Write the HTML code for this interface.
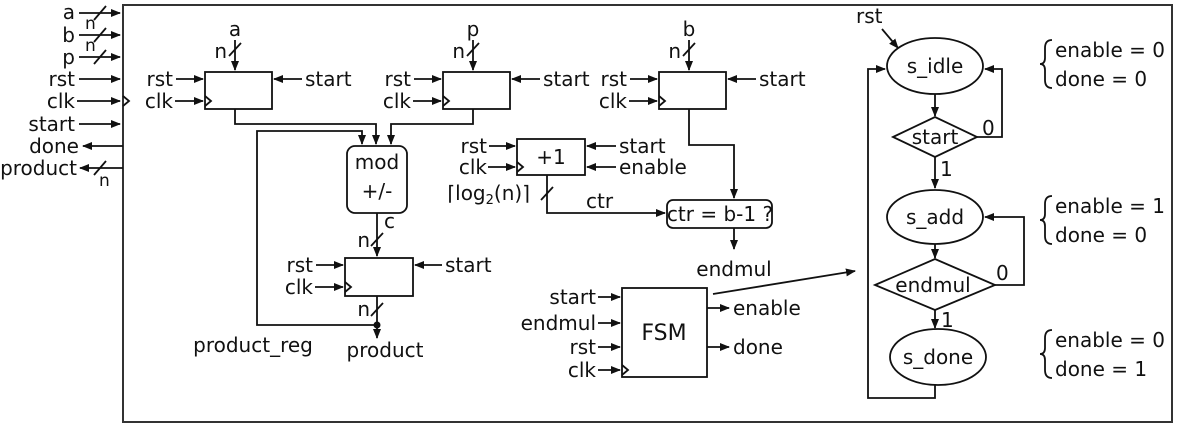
<!DOCTYPE html>
<html><head><meta charset="utf-8"><style>
html,body{margin:0;padding:0;background:#fff;}
svg{display:block;}
text{font-family:"DejaVu Sans","Liberation Sans",sans-serif;font-size:20px;fill:#111;}
.r{text-anchor:end}.m{text-anchor:middle}
</style></head><body>
<svg width="1178" height="430" viewBox="0 0 1178 430" xmlns="http://www.w3.org/2000/svg">
<defs><marker id="a" markerWidth="10" markerHeight="8" refX="9" refY="4" orient="auto" markerUnits="userSpaceOnUse"><path d="M0,0 L10,4 L0,8 Z" fill="#111"/></marker></defs>
<g stroke="#111" stroke-width="1.8" fill="none">
<rect x="123" y="5" width="1049" height="417" stroke="#333" stroke-width="2"/>
<line x1="79" y1="13" x2="120" y2="13" marker-end="url(#a)"/><line x1="94" y1="20" x2="106" y2="6"/>
<line x1="79" y1="35" x2="120" y2="35" marker-end="url(#a)"/><line x1="94" y1="42" x2="106" y2="28"/>
<line x1="79" y1="57" x2="120" y2="57" marker-end="url(#a)"/><line x1="94" y1="64" x2="106" y2="50"/>
<line x1="79" y1="79" x2="120" y2="79" marker-end="url(#a)"/>
<line x1="77" y1="101" x2="120" y2="101" marker-end="url(#a)"/><path d="M123,96 L129,101 L123,106"/>
<line x1="79" y1="124" x2="120" y2="124" marker-end="url(#a)"/>
<line x1="123" y1="146" x2="83" y2="146" marker-end="url(#a)"/>
<line x1="123" y1="168" x2="80" y2="168" marker-end="url(#a)"/><line x1="94" y1="175" x2="106" y2="161"/>
<rect x="205" y="72" width="67" height="37"/><path d="M205,96 L211,101 L205,106"/>
<line x1="176" y1="79" x2="203" y2="79" marker-end="url(#a)"/>
<line x1="175" y1="101" x2="203" y2="101" marker-end="url(#a)"/>
<line x1="302" y1="79" x2="274" y2="79" marker-end="url(#a)"/>
<line x1="235" y1="40" x2="235" y2="70" marker-end="url(#a)"/><line x1="229" y1="56" x2="241" y2="43"/>
<rect x="443" y="72" width="67" height="37"/><path d="M443,96 L449,101 L443,106"/>
<line x1="414" y1="79" x2="441" y2="79" marker-end="url(#a)"/>
<line x1="413" y1="101" x2="441" y2="101" marker-end="url(#a)"/>
<line x1="540" y1="79" x2="512" y2="79" marker-end="url(#a)"/>
<line x1="473" y1="40" x2="473" y2="70" marker-end="url(#a)"/><line x1="467" y1="56" x2="479" y2="43"/>
<rect x="659" y="72" width="67" height="37"/><path d="M659,96 L665,101 L659,106"/>
<line x1="630" y1="79" x2="657" y2="79" marker-end="url(#a)"/>
<line x1="629" y1="101" x2="657" y2="101" marker-end="url(#a)"/>
<line x1="756" y1="79" x2="728" y2="79" marker-end="url(#a)"/>
<line x1="689" y1="40" x2="689" y2="70" marker-end="url(#a)"/><line x1="683" y1="56" x2="695" y2="43"/>
<path d="M235,109 V124 H376 V144" marker-end="url(#a)"/>
<path d="M473,109 V124 H391 V144" marker-end="url(#a)"/>
<path d="M377,325 H257 V131 H362 V144" marker-end="url(#a)"/>
<rect x="347" y="146" width="60" height="67" rx="8"/>
<line x1="377" y1="213" x2="377" y2="256" marker-end="url(#a)"/><line x1="371" y1="246" x2="383" y2="233"/>
<rect x="345" y="258" width="68" height="38"/><path d="M345,282 L351,287 L345,292"/>
<line x1="316" y1="265" x2="343" y2="265" marker-end="url(#a)"/>
<line x1="315" y1="287" x2="343" y2="287" marker-end="url(#a)"/>
<line x1="442" y1="265" x2="415" y2="265" marker-end="url(#a)"/>
<line x1="377" y1="296" x2="377" y2="338" marker-end="url(#a)"/><line x1="371" y1="316" x2="383" y2="303"/>
<rect x="517" y="139" width="68" height="36"/><path d="M517,162 L523,167 L517,172"/>
<line x1="489" y1="146" x2="515" y2="146" marker-end="url(#a)"/>
<line x1="488" y1="167" x2="515" y2="167" marker-end="url(#a)"/>
<line x1="616" y1="146" x2="587" y2="146" marker-end="url(#a)"/>
<line x1="616" y1="167" x2="587" y2="167" marker-end="url(#a)"/>
<path d="M547,175 V213 H665" marker-end="url(#a)"/><line x1="541" y1="200" x2="553" y2="187"/>
<path d="M689,109 V145 H734 V198" marker-end="url(#a)"/>
<rect x="667" y="200" width="105" height="28" rx="6"/>
<line x1="734" y1="228" x2="734" y2="249" marker-end="url(#a)"/>
<rect x="622" y="288" width="85" height="89"/><path d="M622,365 L628,370 L622,375"/>
<line x1="598" y1="297" x2="620" y2="297" marker-end="url(#a)"/>
<line x1="598" y1="323" x2="620" y2="323" marker-end="url(#a)"/>
<line x1="598" y1="347" x2="620" y2="347" marker-end="url(#a)"/>
<line x1="598" y1="370" x2="620" y2="370" marker-end="url(#a)"/>
<line x1="707" y1="308" x2="729" y2="308" marker-end="url(#a)"/>
<line x1="707" y1="347" x2="729" y2="347" marker-end="url(#a)"/>
<line x1="713" y1="294" x2="855" y2="271" marker-end="url(#a)"/>
<ellipse cx="935" cy="66" rx="48" ry="28"/>
<line x1="882" y1="29" x2="898" y2="48" marker-end="url(#a)"/>
<line x1="935" y1="94" x2="935" y2="116" marker-end="url(#a)"/>
<path d="M893,137 L935,117 L977,137 L935,157 Z"/>
<path d="M977,137 H1002 V69 H985" marker-end="url(#a)"/>
<line x1="935" y1="157" x2="935" y2="188" marker-end="url(#a)"/>
<ellipse cx="935" cy="217" rx="48" ry="27"/>
<line x1="935" y1="244" x2="935" y2="258" marker-end="url(#a)"/>
<path d="M875,285 L935,259 L995,285 L935,310 Z"/>
<path d="M995,285 H1024 V217 H985" marker-end="url(#a)"/>
<line x1="935" y1="310" x2="935" y2="328" marker-end="url(#a)"/>
<ellipse cx="938" cy="357" rx="48" ry="28"/>
<path d="M935,385 V398 H868 V69 H885" marker-end="url(#a)"/>
<path d="M1052,40 Q1045,40 1045,48 V58 Q1045,64 1040,64 Q1045,64 1045,70 V80 Q1045,88 1052,88"/>
<path d="M1052,196 Q1045,196 1045,204 V214 Q1045,220 1040,220 Q1045,220 1045,226 V236 Q1045,244 1052,244"/>
<path d="M1052,330 Q1045,330 1045,338 V348 Q1045,354 1040,354 Q1045,354 1045,360 V370 Q1045,378 1052,378"/>
</g>
<circle cx="377" cy="325" r="3.5" fill="#111"/>
<text class="r" x="75" y="19">a</text><text class="r" x="75" y="42">b</text><text class="r" x="75" y="64">p</text>
<text class="r" x="75" y="86">rst</text><text class="r" x="75" y="108">clk</text><text class="r" x="75" y="131">start</text>
<text class="r" x="79" y="153">done</text><text class="r" x="77" y="175">product</text>
<text x="85" y="29" style="font-size:17px">n</text><text x="85" y="51" style="font-size:17px">n</text><text x="99" y="186" style="font-size:17px">n</text>
<text class="m" x="235" y="36">a</text><text class="r" x="227" y="58">n</text>
<text class="r" x="173" y="86">rst</text><text class="r" x="173" y="108">clk</text><text x="305" y="86">start</text>
<text class="m" x="473" y="36">p</text><text class="r" x="465" y="58">n</text>
<text class="r" x="411" y="86">rst</text><text class="r" x="411" y="108">clk</text><text x="543" y="86">start</text>
<text class="m" x="689" y="36">b</text><text class="r" x="681" y="58">n</text>
<text class="r" x="627" y="86">rst</text><text class="r" x="627" y="108">clk</text><text x="759" y="86">start</text>
<text class="m" x="377" y="169">mod</text><text class="m" x="377" y="198">+/-</text>
<text x="384" y="228">c</text><text class="r" x="370" y="247">n</text>
<text class="r" x="313" y="272">rst</text><text class="r" x="313" y="294">clk</text><text x="445" y="272">start</text>
<text class="r" x="370" y="316">n</text>
<text class="m" x="253" y="352">product_reg</text><text class="m" x="385" y="357">product</text>
<text class="r" x="487" y="153">rst</text><text class="r" x="487" y="174">clk</text>
<text class="m" x="551" y="164">+1</text><text x="619" y="153">start</text><text x="619" y="174">enable</text>
<text class="r" x="530" y="200">⌈log<tspan style="font-size:13px" dy="4">2</tspan><tspan dy="-4">(n)⌉</tspan></text>
<text x="586" y="208">ctr</text>
<text class="m" x="720" y="221">ctr = b-1 ?</text>
<text class="m" x="734" y="276">endmul</text>
<text class="r" x="596" y="304">start</text><text class="r" x="596" y="330">endmul</text>
<text class="r" x="596" y="354">rst</text><text class="r" x="596" y="377">clk</text>
<text class="m" x="664" y="340" style="font-size:22px">FSM</text>
<text x="733" y="315">enable</text><text x="733" y="354">done</text>
<text x="856" y="23">rst</text>
<text class="m" x="935" y="73">s_idle</text>
<text class="m" x="935" y="144">start</text><text x="982" y="135">0</text><text x="940" y="176">1</text>
<text class="m" x="935" y="224">s_add</text>
<text class="m" x="933" y="292">endmul</text><text x="996" y="280">0</text><text x="941" y="327">1</text>
<text class="m" x="938" y="364">s_done</text>
<text x="1055" y="57">enable = 0</text><text x="1055" y="86">done = 0</text>
<text x="1055" y="213">enable = 1</text><text x="1055" y="242">done = 0</text>
<text x="1055" y="347">enable = 0</text><text x="1055" y="376">done = 1</text>
</svg>
</body></html>
